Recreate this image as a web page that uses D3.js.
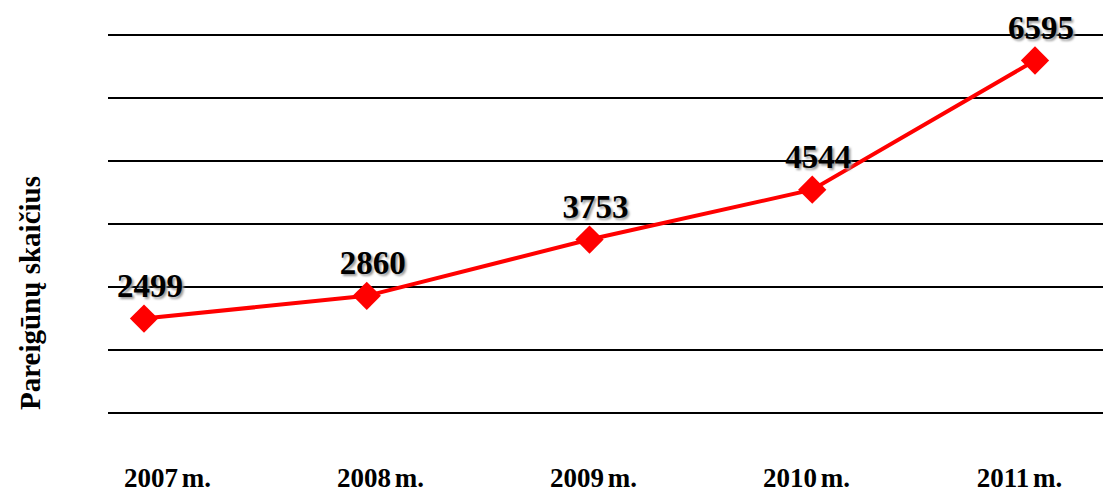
<!doctype html>
<html lang="lt">
<head>
<meta charset="utf-8">
<title>Pareigūnų skaičius</title>
<script src="https://cdn.jsdelivr.net/npm/d3@7"></script>
<style>
  body { margin: 0; background: #fff; }
  text { font-family: "Liberation Serif", "Times New Roman", serif; font-weight: bold; }
  .grid line { stroke: #000; stroke-width: 2; }
</style>
</head>
<body>
<div id="chart"></div>
<script>
var years = ["2007 m.", "2008 m.", "2009 m.", "2010 m.", "2011 m."];
var officers = [2499, 2860, 3753, 4544, 6595];
var gridTicks = [1000, 2000, 3000, 4000, 5000, 6000, 7000];
var yTitle = "Pareigūnų skaičius";

var width = 1103,
    height = 493;

var svg = d3.select("#chart")
  .append("svg")
  .attr("width", width)
  .attr("height", height);

var defs = svg.append("defs");
defs.append("filter").attr("id", "soft")
  .append("feGaussianBlur").attr("stdDeviation", 1.2);

// label positions and marker positions
var xLabel = d3.scalePoint().domain(years).range([167, 1019]);
var x = d3.scalePoint().domain(years).range([144, 1035]);
var y = d3.scaleLinear().domain([0, 7000]).range([476, 35]);

// horizontal grid lines
svg.append("g").attr("class", "grid")
  .selectAll("line")
  .data(gridTicks)
  .enter()
  .append("line")
  .attr("x1", 108)
  .attr("x2", width)
  .attr("y1", function(d) { return y(d); })
  .attr("y2", function(d) { return y(d); });

// x axis labels
var xAxis = d3.axisBottom(xLabel).tickSize(0).tickPadding(0);
var gx = svg.append("g").attr("transform", "translate(0,468)").call(xAxis);
gx.select(".domain").remove();
gx.selectAll("text")
  .attr("dy", 0)
  .attr("y", 19)
  .style("font-size", "27px")
  .style("word-spacing", "-3px")
  .style("font-family", '"Liberation Serif", serif')
  .style("font-weight", "bold")
  .attr("fill", "#000");

// y title
svg.append("text")
  .attr("transform", "translate(40,293) rotate(-90)")
  .attr("text-anchor", "middle")
  .style("font-size", "29px")
  .text(yTitle);

var pts = years.map(function(d, i) { return { year: d, value: officers[i] }; });

var line = d3.line()
  .x(function(d) { return x(d.year); })
  .y(function(d) { return y(d.value); });

svg.append("path")
  .datum(pts)
  .attr("d", line)
  .attr("fill", "none")
  .attr("stroke", "#ff0000")
  .attr("stroke-width", 4);

var diamond = d3.symbol().type(d3.symbolSquare).size(400);
svg.selectAll(".marker")
  .data(pts)
  .enter()
  .append("path")
  .attr("class", "marker")
  .attr("d", diamond)
  .attr("transform", function(d) { return "translate(" + x(d.year) + "," + y(d.value) + ") rotate(45)"; })
  .attr("fill", "#ff0000");

// value labels with a soft shadow
var labels = svg.append("g").attr("text-anchor", "middle").style("font-size", "33px");
labels.selectAll(".shadow")
  .data(pts)
  .enter()
  .append("text")
  .attr("x", function(d) { return x(d.year) + 8; })
  .attr("y", function(d) { return y(d.value) - 20; })
  .attr("fill", "#999")
  .attr("filter", "url(#soft)")
  .text(function(d) { return d.value; });
labels.selectAll(".val")
  .data(pts)
  .enter()
  .append("text")
  .attr("x", function(d) { return x(d.year) + 6; })
  .attr("y", function(d) { return y(d.value) - 22; })
  .attr("fill", "#000")
  .text(function(d) { return d.value; });
</script>
</body>
</html>
